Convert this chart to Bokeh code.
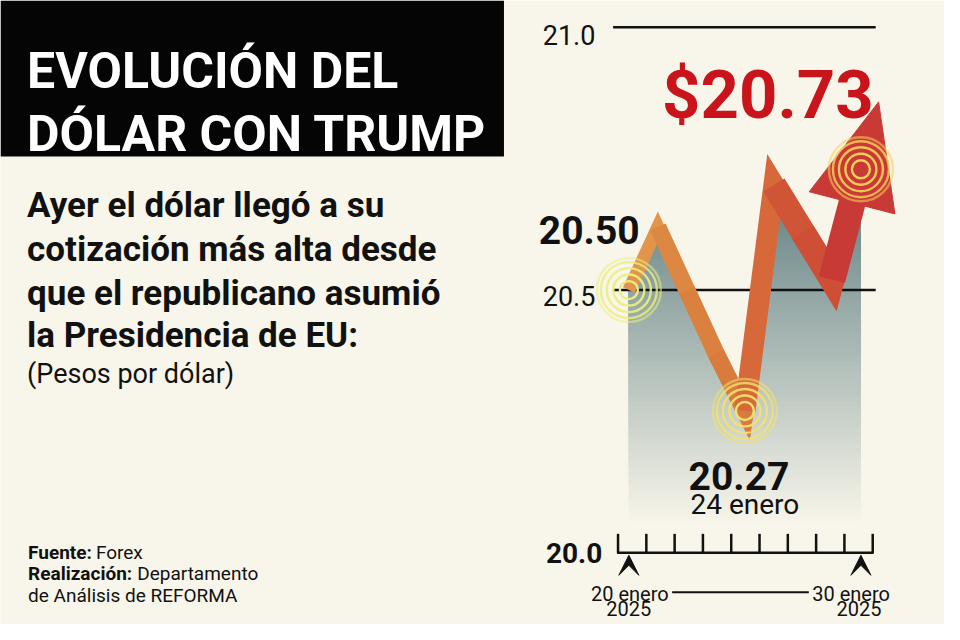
import numpy as np
from bokeh.plotting import figure
from bokeh.models import Range1d, Label, Arrow, VeeHead, BoxAnnotation
from bokeh.embed import file_html
from bokeh.resources import INLINE
from bokeh.core.properties import value

# ---------------- data ----------------
dates = ["20 ene", "21 ene", "22 ene", "23 ene", "24 ene", "27 ene", "28 ene", "29 ene", "30 ene"]
rates = [20.50, 20.62, 20.50, 20.38, 20.27, 20.70, 20.61, 20.52, 20.73]
y_ticks = [20.0, 20.5, 21.0]
y_tick_labels = ["20.0", "20.5", "21.0"]
highlight_idx = [0, 4, 8]
low_label = "24 enero"
start_label = ["20 enero", "2025"]
end_label = ["30 enero", "2025"]

title_lines = ["EVOLUCIÓN DEL", "DÓLAR CON TRUMP"]
subtitle_lines = ["Ayer el dólar llegó a su", "cotización más alta desde",
                  "que el republicano asumió", "la Presidencia de EU:"]
unit_text = "(Pesos por dólar)"

# ---------------- styles ----------------
BG = "#f8f6ea"
INK = "#111111"
RED = "#c8141a"
FONT = "Roboto"
seg_colors = ["#e0954a", "#dc8742", "#da813f", "#d97b3d", "#d6683a", "#d05537", "#ce4e36", "#c83a36"]
seg_widths = [13, 17, 17, 17, 21, 25, 25, 27]
ring_colors = ["#ebee80", "#f3e26c", "#f8d25a"]
ring_sizes = [18, 31, 44, 56, 64]
ring_alpha = [1.0, 0.95, 0.9, 0.8, 0.55]

idx = np.arange(len(dates), dtype=float)
vals = np.array(rates)

# reference-pixel -> data helpers (layout only)
X0, DX = 639.0, 29.5
Y0, DY = 566.5, 539.0


def X(px):
    return (px - X0) / DX


def Y(py):
    return 20.0 + (Y0 - py) / DY


p = figure(width=944, height=624,
           x_range=Range1d(X(0), X(960)), y_range=Range1d(Y(640), Y(0)),
           output_backend="svg", toolbar_location=None, min_border=0,
           x_axis_location=None, y_axis_location=None,
           background_fill_color=BG, border_fill_color=BG, outline_line_color=None)
p.grid.visible = False


def label(x, y, text, size, bold=False, color=INK, align="left"):
    p.add_layout(Label(x=x, y=y, text=text, text_font=FONT, text_font_size=size,
                       text_font_style="bold" if bold else "normal", text_color=color,
                       text_align=align, text_baseline="alphabetic"))


# ---------------- title block ----------------
p.add_layout(BoxAnnotation(left=X(0), right=X(512), top=Y(0), bottom=Y(160),
                           fill_color="#050505", fill_alpha=1.0, line_alpha=0))
for line, base in zip(title_lines, [72, 137]):
    label(X(27), Y(base), line, "50px", bold=True, color="white")

for line, base in zip(subtitle_lines, [210, 255, 300, 344]):
    label(X(27), Y(base), line, "35px", bold=True)
label(X(27), Y(383), unit_text, "27px")

# footer
label(X(28), Y(566), "Fuente:", "19px", bold=True)
label(X(97), Y(566), "Forex", "19px")
label(X(28), Y(588), "Realización:", "19px", bold=True)
label(X(139), Y(588), "Departamento", "19px")
label(X(28), Y(610), "de Análisis de REFORMA", "19px")

# ---------------- gradient area ----------------
g_base, g_top = 20.03, 20.80
bands = np.linspace(g_base, g_top, 90, endpoint=False)
top_rgb = np.array([112, 139, 141])
bg_rgb = np.array([248, 246, 234])
band_cols = []
for b in bands:
    t = (b - 20.05) / 0.70
    f = min(max(1.2 * t, 0.0), 1.0)
    c = (bg_rgb + (top_rgb - bg_rgb) * f).round().astype(int)
    band_cols.append("#%02x%02x%02x" % tuple(c))
p.quad(left=idx[0], right=idx[-1], bottom=bands, top=g_top + 0.02, fill_color=band_cols, line_color=None)
# mask above the series
mask_x = np.concatenate([idx, [idx[-1], idx[0]]])
mask_y = np.concatenate([vals, [g_top + 0.04, g_top + 0.04]])
p.patch(mask_x, mask_y, fill_color=BG, line_color=BG, line_width=3)

# ---------------- grid lines ----------------
p.segment(x0=X(623), x1=X(890), y0=y_ticks[1:], y1=y_ticks[1:], line_color=INK, line_width=2.5)
p.text(x=[X(605), X(605)], y=[Y(303), Y(35)],
       text=[y_tick_labels[1], y_tick_labels[2]],
       text_align="right", text_baseline="alphabetic", text_font=value(FONT),
       text_font_size="27px", text_color=INK)
p.text(x=[X(612)], y=[Y(567)], text=[y_tick_labels[0]],
       text_align="right", text_baseline="alphabetic", text_font=value(FONT),
       text_font_size="28px", text_font_style="bold", text_color=INK)

# ---------------- ribbon ----------------
for k in range(len(idx) - 1):
    p.line(idx[k:], vals[k:], line_color=seg_colors[k], line_width=seg_widths[k],
           line_join="miter", line_cap="butt")
dxl, dyl = idx[-1] - idx[-2], vals[-1] - vals[-2]
p.line([idx[-1], idx[-1] + 0.3 * dxl], [vals[-1], vals[-1] + 0.3 * dyl],
       line_color=seg_colors[-1], line_width=seg_widths[-1], line_cap="butt")

# arrow head (isosceles triangle along the last segment direction)
tip_x, tip_y = idx[-1] + 0.61 * dxl, vals[-1] + 0.61 * dyl
ux, uy = dxl * DX, -dyl * DY
nrm = np.hypot(ux, uy)
ux, uy = ux / nrm, uy / nrm
HL, HW = 107.0, 90.0
mx, my = -HL * ux, -HL * uy          # pixel offset tip -> base mid
nx, ny = -uy, ux
head_x = [tip_x, tip_x + (mx + HW / 2 * nx) / DX, tip_x + (mx - HW / 2 * nx) / DX]
head_y = [tip_y, tip_y - (my + HW / 2 * ny) / DY, tip_y - (my - HW / 2 * ny) / DY]
p.patch(head_x, head_y, fill_color="#c93a37", line_color="#c93a37", line_width=1)

# ---------------- rings ----------------
for i, col in zip(highlight_idx, ring_colors):
    p.scatter(x=[idx[i]] * len(ring_sizes), y=[vals[i]] * len(ring_sizes), size=ring_sizes,
              marker="circle", fill_alpha=0, line_color=col, line_alpha=ring_alpha, line_width=2.4)

# ---------------- value labels ----------------
label(X(888), Y(97), "$%.2f" % rates[-1], "67px", bold=True, color=RED, align="right")
label(X(650), Y(235), "%.2f" % rates[0], "39px", bold=True, align="right")
label(X(751), Y(488), "%.2f" % rates[4], "39px", bold=True, align="center")
label(X(757), Y(517), low_label, "28px", align="center")

# ---------------- bottom axis ----------------
tick_x = np.linspace(X(628), X(887), 10)
p.segment(x0=X(627), x1=X(888), y0=y_ticks[0], y1=y_ticks[0], line_color=INK, line_width=2.5)
p.segment(x0=tick_x, x1=tick_x, y0=y_ticks[0], y1=Y(547), line_color=INK, line_width=2.5)
for i in [0, len(idx) - 1]:
    p.add_layout(Arrow(end=VeeHead(size=20, fill_color=INK, line_color=INK),
                       x_start=idx[i], y_start=Y(600), x_end=idx[i], y_end=Y(569),
                       line_color=None))
label(X(640), Y(609), start_label[0], "20px", align="center")
label(X(639), Y(624), start_label[1], "20px", align="center")
label(X(865), Y(609), end_label[0], "20px", align="center")
label(X(873), Y(624), end_label[1], "20px", align="center")
p.segment(x0=X(683), x1=X(822), y0=Y(607), y1=Y(607), line_color=INK, line_width=2)

open("out.html", "w").write(file_html(p, INLINE))
